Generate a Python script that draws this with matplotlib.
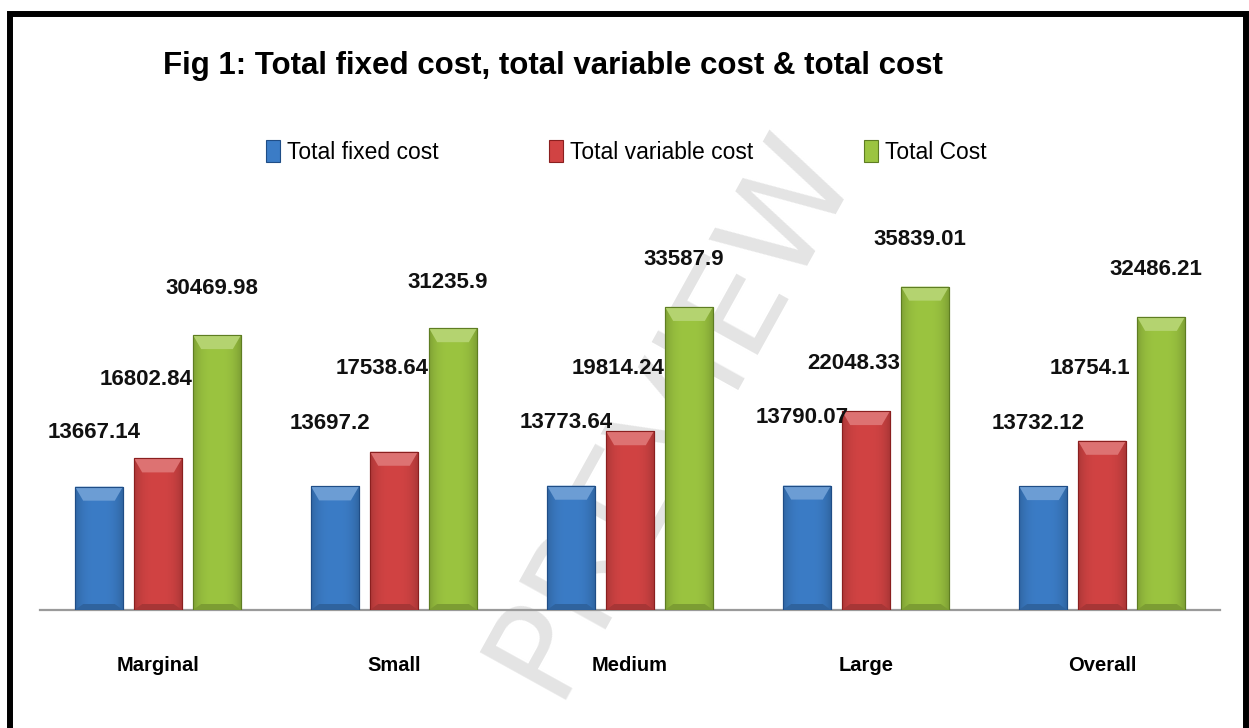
import numpy as np
import matplotlib
matplotlib.use('Agg')
import matplotlib.pyplot as plt
from matplotlib import font_manager
from matplotlib.patches import Rectangle, Polygon
from matplotlib.colors import to_rgb

# data
categories = ['Marginal', 'Small', 'Medium', 'Large', 'Overall']
series = ['Total fixed cost', 'Total variable cost', 'Total Cost']
fixed_cost = [13667.14, 13697.2, 13773.64, 13790.07, 13732.12]
variable_cost = [16802.84, 17538.64, 19814.24, 22048.33, 18754.1]
total_cost = [30469.98, 31235.9, 33587.9, 35839.01, 32486.21]
label_text = [['13667.14', '13697.2', '13773.64', '13790.07', '13732.12'],
              ['16802.84', '17538.64', '19814.24', '22048.33', '18754.1'],
              ['30469.98', '31235.9', '33587.9', '35839.01', '32486.21']]

colors = ['#3b7cc6', '#d14343', '#9bc440']
edges = ['#1f4d86', '#8a1f1f', '#5e7d22']
# label offsets in pixels (dx, dy above bar top)
lab_dx = [-5, -12, -5]
lab_dy = [[54, 63, 63, 68, 63], [79, 83, 63, 48, 72], [47, 46, 47, 47, 47]]

W, H = 1249, 728
names = {f.name for f in font_manager.fontManager.ttflist}
narrow = 'Liberation Sans Narrow' if 'Liberation Sans Narrow' in names else 'Liberation Sans'
title_size = 24 if narrow == 'Liberation Sans Narrow' else 22.5
plt.rcParams['font.family'] = ['Liberation Sans', 'DejaVu Sans']

fig = plt.figure(figsize=(W / 100, H / 100), dpi=100)
ax = fig.add_axes([40 / W, 1 - 610 / H, 1180 / W, 406 / H])
ymax = 45000
ax.set_xlim(-0.5, 4.5)
ax.set_ylim(0, ymax)
px = ymax / 406.0  # data units per pixel

# watermark, behind the bars
ax.text(670 / W, 1 - 412 / H, 'PREVIEW', transform=fig.transFigure, fontsize=98,
        color='#e4e4e4', rotation=61, ha='center', va='center', family='DejaVu Sans',
        zorder=0.5, clip_on=False)

x = np.arange(len(categories))
width = 0.203
offs = [-0.25, 0, 0.25]
values = [fixed_cost, variable_cost, total_cost]

def shade(c, f):
    r = np.array(to_rgb(c))
    if f >= 1:
        return tuple(r + (1 - r) * (f - 1))
    return tuple(r * f)

for i, vals in enumerate(values):
    bars = ax.bar(x + offs[i], vals, width, color=colors[i], edgecolor=edges[i],
                  linewidth=0.8, zorder=2, label=series[i])
    base = np.array(to_rgb(colors[i]))
    prof = 1 - 0.18 * np.abs(np.linspace(-1, 1, 60)) ** 3
    img = np.clip(base[None, None, :] * prof[None, :, None], 0, 1)
    for j, b in enumerate(bars):
        bx, bw, bh = b.get_x(), b.get_width(), b.get_height()
        im = ax.imshow(img, extent=[bx, bx + bw, 0, bh], aspect='auto', zorder=2.1)
        im.set_clip_path(b)
        d = 14 * px
        ins = bw * 0.17
        top = Polygon([(bx, bh), (bx + bw, bh), (bx + bw - ins, bh - d), (bx + ins, bh - d)],
                      closed=True, facecolor=shade(colors[i], 1.25), edgecolor='none', zorder=2.2)
        ax.add_patch(top)
        bot = Polygon([(bx, 0), (bx + bw, 0), (bx + bw - ins, 6 * px), (bx + ins, 6 * px)],
                      closed=True, facecolor=shade(colors[i], 0.8), edgecolor='none', zorder=2.2)
        ax.add_patch(bot)
        ax.add_patch(Rectangle((bx, 0), bw, bh, fill=False, edgecolor=edges[i], lw=0.8, zorder=2.3))
        ax.annotate(label_text[i][j], (bx + bw / 2, bh), xytext=(lab_dx[i] * 0.72, lab_dy[i][j] * 0.72),
                    textcoords='offset points', ha='center', va='center', fontsize=16,
                    fontweight='bold', color='#111111', annotation_clip=False, zorder=3)

ax.set_xlim(-0.5, 4.5)
ax.set_ylim(0, ymax)
for s in ['top', 'left', 'right']:
    ax.spines[s].set_visible(False)
ax.spines['bottom'].set_color('#9a9a9a')
ax.spines['bottom'].set_linewidth(1.6)
ax.spines['bottom'].set_zorder(1)
ax.set_yticks([])
ax.set_xticks(x)
ax.set_xticklabels(categories, fontsize=14.5, fontweight='bold')
ax.tick_params(axis='x', length=0, pad=33)
ax.patch.set_alpha(0)

fig.text(163 / W, 1 - 66 / H, 'Fig 1: Total fixed cost, total variable cost & total cost',
         fontsize=title_size, fontweight='bold', family=narrow, ha='left', va='center')

handles = [Rectangle((0, 0), 1, 1, facecolor=colors[i], edgecolor=edges[i], lw=0.8) for i in range(3)]
leg = fig.legend(handles, series, loc='upper left', bbox_to_anchor=(266 / W, 1 - 140 / H), ncol=3,
                 frameon=False, fontsize=16.5, handlelength=0.6, handleheight=1.1, handletextpad=0.3,
                 columnspacing=4.85, borderaxespad=0, borderpad=0)

# outer frame
fig.add_artist(Rectangle((10 / W, -0.05), 1236 / W, 1.05 - 14 / H, transform=fig.transFigure,
                         fill=False, edgecolor='black', linewidth=4.3))

fig.savefig('out.png', dpi=100)
